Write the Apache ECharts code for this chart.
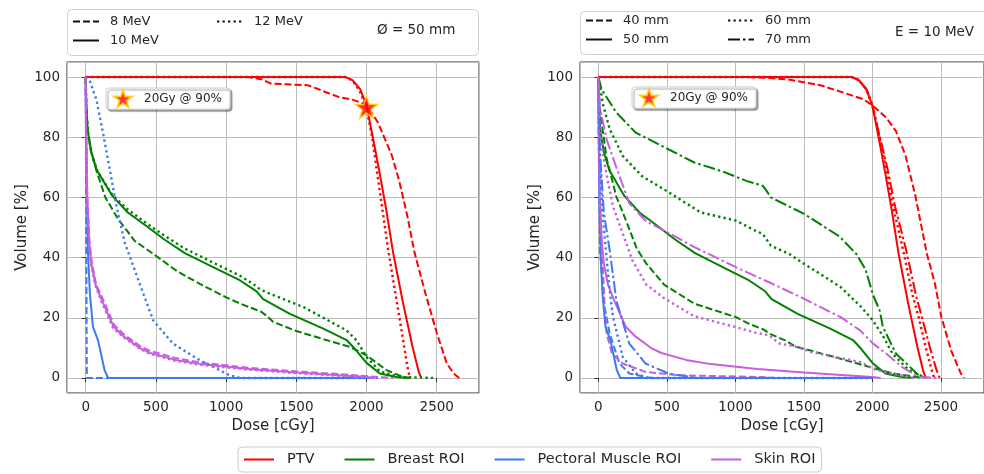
<!DOCTYPE html>
<html><head><meta charset="utf-8">
<script src="https://cdn.jsdelivr.net/npm/echarts@6/dist/echarts.min.js"></script>
<style>html,body{margin:0;padding:0;background:#fff}#c{width:984px;height:474px}</style>
</head><body><div id="c"></div>
<script>
// ---------- Data: [dose cGy, volume %] ----------
// Left panel: field size Ø = 50 mm, energies 8 / 10 / 12 MeV
const ptv_8MeV = [[0,100],[1150,100],[1250,99.3],[1320,97.8],[1580,97.3],[1650,96.1],[1730,94.6],[1800,93.4],[1900,92.5],[2000,90.8],[2080,85],[2180,74],[2230,66],[2290,54],[2340,42],[2420,28],[2500,15],[2570,5],[2620,1.5],[2660,0]];
const ptv_10MeV = [[0,100],[1850,100],[1900,99],[1955,96],[2000,90.5],[2045,80],[2090,69],[2140,56],[2190,41.5],[2262,24.5],[2328,10.3],[2372,2],[2390,0]];
const ptv_12MeV = [[0,100],[1850,100],[1900,98.8],[1950,95.5],[2000,89.8],[2040,80],[2070,70],[2110,57],[2155,42.3],[2214,25.8],[2261,12.5],[2290,4],[2309,0]];

const breast_8MeV = [[0,100],[5,90],[15,82],[40,75],[76,69],[140,60],[231,52.8],[350,45.5],[492,40.9],[650,35.5],[812,31.3],[1000,26.8],[1100,24.7],[1250,22],[1290,20.6],[1336,18.6],[1500,15.6],[1700,12.8],[1882,10.3],[2000,7.5],[2143,2.6],[2261,0.3],[2333,0]];
const breast_10MeV = [[0,100],[5,90],[15,82],[40,75],[80,69],[190,60.5],[300,55],[432,50.5],[560,46],[706,41.5],[900,37],[1100,32.4],[1217,28.8],[1264,26.2],[1454,21.3],[1692,16.4],[1858,12.6],[1917,9.7],[2000,5],[2095,1.5],[2214,0.3],[2300,0]];
const breast_12MeV = [[0,100],[5,90],[15,82],[40,75],[80,69],[190,60.8],[300,56],[430,51.5],[560,47.3],[706,43],[900,38.5],[1098,34],[1200,31],[1240,29.5],[1311,28],[1549,23.6],[1700,19.8],[1858,15.8],[1929,12.5],[2000,7],[2095,2.2],[2238,0.3],[2490,0]];

const pect_8MeV = [[0,100],[4,50],[8,0],[2080,0]];
const pect_10MeV = [[0,100],[3,80],[8,60],[16,42],[30,28],[52,17],[88,12.5],[135,2.5],[160,0],[1990,0]];
const pect_12MeV = [[0,100],[29,98.7],[76,92.6],[123,81.5],[171,69.4],[219,57.2],[278,45],[385,31.3],[481,19.1],[622,11.4],[812,5.9],[1026,0.9],[1098,0],[2000,0]];

const skin_8MeV = [[0,100],[5,80],[12,60],[28,45],[45,38],[75,31],[120,26.5],[200,17.8],[270,14.5],[390,10.5],[460,9],[640,6.6],[820,5.1],[1160,3.4],[1500,2.2],[1800,1.3],[2000,0.6],[2190,0]];
const skin_10MeV = [[0,100],[4,80],[10,60],[25,45],[40,38],[70,31],[115,25.8],[200,17],[270,13.8],[390,9.8],[460,8.3],[640,6],[820,4.6],[1160,3],[1500,1.8],[1800,0.9],[2000,0.3],[2060,0]];
const skin_12MeV = [[0,100],[4,80],[10,60],[24,45],[38,38],[68,31],[112,25.4],[195,16.6],[270,13.5],[390,9.6],[455,8.1],[630,5.8],[810,4.4],[1150,2.8],[1500,1.6],[1800,0.8],[2000,0.2],[2050,0]];

// Right panel: energy E = 10 MeV, field sizes 40 / 50 / 60 / 70 mm (50 mm = 10 MeV curves)
const ptv_40mm = [[0,100],[1080,100],[1250,99.7],[1388,99.2],[1626,97.2],[1791,94.8],[1934,92.6],[2005,90.4],[2100,86.5],[2171,82.1],[2242,73.8],[2313,60.6],[2396,41.5],[2456,31.3],[2503,20.2],[2574,9.2],[2645,1.5],[2669,0]];
const ptv_50mm = ptv_10MeV;
const ptv_60mm = [[0,100],[1850,100],[1900,99],[1955,96],[2000,90.5],[2050,80],[2100,69.5],[2150,57],[2225,42.3],[2290,28],[2337,20.2],[2390,10],[2430,3],[2450,0]];
const ptv_70mm = [[0,100],[1850,100],[1900,99],[1955,96],[2000,90.5],[2055,80],[2110,69.5],[2165,57],[2247,42.3],[2320,27],[2361,20.2],[2420,10],[2465,3],[2490,0]];

const breast_40mm = [[0,100],[10,90],[24,84.9],[60,73],[131,60.3],[226,49.5],[280,43],[350,38],[480,31],[700,24.7],[1004,20.2],[1100,18],[1200,16.2],[1260,14.5],[1363,12.5],[1434,10.5],[1719,7],[1981,3.6],[2147,1.5],[2366,0]];
const breast_50mm = breast_10MeV;
const breast_60mm = [[0,100],[36,90.4],[83,82.7],[178,73.8],[320,67],[503,62],[747,55],[1004,52.3],[1151,48.8],[1199,47.9],[1258,44],[1400,41],[1502,37.9],[1673,33],[1768,30.2],[1863,26],[1910,24],[2005,19],[2076,14],[2147,8],[2266,2.6],[2390,0]];
const breast_70mm = [[0,100],[24,95.9],[131,88.2],[273,81.5],[463,77.1],[700,71.6],[914,68.5],[1079,65.5],[1199,63.9],[1230,62],[1258,60],[1502,54.5],[1760,47],[1882,41.2],[1950,36],[2005,27.5],[2053,22.4],[2076,17],[2171,8.1],[2337,0.9],[2390,0]];

const pect_40mm = [[0,100],[4,70],[12,42.3],[40,25],[83,14.7],[154,4.8],[226,1.5],[344,0.3],[400,0],[2000,0]];
const pect_50mm = pect_10MeV;
const pect_60mm = [[0,100],[10,75],[30,55],[55,42.3],[80,30],[107,20.2],[178,7],[273,1.5],[356,0],[2000,0]];
const pect_70mm = [[0,100],[12,75],[40,55],[83,42.3],[131,25.8],[226,11.4],[344,4.8],[510,1.5],[724,0],[2000,0]];

const skin_40mm = [[0,100],[5,75],[15,55],[30,40],[45,25],[60,14.7],[100,8],[178,4.8],[344,2],[581,0.9],[1187,0.3],[1300,0]];
const skin_50mm = skin_10MeV;
const skin_60mm = [[0,100],[10,85],[30,75],[71,65],[107,57],[154,51],[249,39],[350,31],[480,26.5],[700,20.5],[1004,16.9],[1151,15],[1246,14.2],[1317,11.5],[1434,10.5],[1554,8.6],[1910,5.3],[2028,2.6],[2266,0.3],[2300,0]];
const skin_70mm = [[0,100],[10,90],[60,79.3],[131,70],[226,58],[350,52],[503,48.4],[700,43.5],[1004,36.8],[1246,31.8],[1502,26.3],[1768,20.2],[1910,15.8],[2005,11.4],[2100,8.1],[2218,3.6],[2337,0.3],[2480,0]];

// marker: 20 Gy @ 90 %
const markerPoint = [[2000, 90]];

// axis ranges / labels
const xRangeLeft = [-133, 2801];
const xRangeRight = [-134, 2814];
const yRange = [-5, 105];
const xName = 'Dose [cGy]';
const yName = 'Volume [%]';
const roiNames = ['PTV', 'Breast ROI', 'Pectoral Muscle ROI', 'Skin ROI'];
const energyNames = ['8 MeV', '10 MeV', '12 MeV'];
const sizeNames = ['40 mm', '50 mm', '60 mm', '70 mm'];
const markerName = '20Gy @ 90%';

// ---------- Styles ----------
const FONT = 'DejaVu Sans';
const TXT = '#262626';
const COL = {PTV: '#ff0000', Breast: '#008000', Pect: '#3d7af0', Skin: '#c95ee0'};
const DASH = {solid: 'solid', dashed: [7, 3], dotted: [2.3, 3.2], dashdot: [12, 3, 2.5, 3]};
const WIDTH = {solid: 2, dashed: 2, dotted: 2.4, dashdot: 2};
const STAR = 'path://M50,0 L61.8,35.1 L98.1,35.1 L68.8,56.8 L79.4,91.9 L50,70.5 L20.6,91.9 L31.2,56.8 L1.9,35.1 L38.2,35.1 Z';

function line(name, data, color, style, gi) {
  return {type: 'line', name: name, data: data, xAxisIndex: gi, yAxisIndex: gi,
    symbol: 'none', showSymbol: false, clip: true, silent: true,
    lineStyle: {color: color, width: WIDTH[style], type: DASH[style]}, itemStyle: {color: color}};
}
function dummy(name, color, style) {
  return {type: 'line', name: name, data: [], xAxisIndex: 0, yAxisIndex: 0, symbol: 'none',
    lineStyle: {color: color, width: WIDTH[style], type: DASH[style]}, itemStyle: {color: color}};
}

const series = [];
const leftSets = [
  ['8', 'dashed', ptv_8MeV, breast_8MeV, pect_8MeV, skin_8MeV],
  ['10', 'solid', ptv_10MeV, breast_10MeV, pect_10MeV, skin_10MeV],
  ['12', 'dotted', ptv_12MeV, breast_12MeV, pect_12MeV, skin_12MeV]
];
leftSets.forEach(s => {
  series.push(line('L PTV ' + s[0], s[2], COL.PTV, s[1], 0));
  series.push(line('L Breast ' + s[0], s[3], COL.Breast, s[1], 0));
  series.push(line('L Pect ' + s[0], s[4], COL.Pect, s[1], 0));
  series.push(line('L Skin ' + s[0], s[5], COL.Skin, s[1], 0));
});
const rightSets = [
  ['40', 'dashed', ptv_40mm, breast_40mm, pect_40mm, skin_40mm],
  ['50', 'solid', ptv_50mm, breast_50mm, pect_50mm, skin_50mm],
  ['60', 'dotted', ptv_60mm, breast_60mm, pect_60mm, skin_60mm],
  ['70', 'dashdot', ptv_70mm, breast_70mm, pect_70mm, skin_70mm]
];
rightSets.forEach(s => {
  series.push(line('R PTV ' + s[0], s[2], COL.PTV, s[1], 1));
  series.push(line('R Breast ' + s[0], s[3], COL.Breast, s[1], 1));
  series.push(line('R Pect ' + s[0], s[4], COL.Pect, s[1], 1));
  series.push(line('R Skin ' + s[0], s[5], COL.Skin, s[1], 1));
});
series.push({type: 'scatter', name: markerName, data: markerPoint, xAxisIndex: 0, yAxisIndex: 0,
  symbol: STAR, symbolSize: 22, z: 5,
  itemStyle: {color: '#ff0000', borderColor: '#ffd400', borderWidth: 1.6}});
series.push(dummy(energyNames[0], '#111', 'dashed'));
series.push(dummy(energyNames[1], '#111', 'solid'));
series.push(dummy(energyNames[2], '#111', 'dotted'));
series.push(dummy(sizeNames[0], '#111', 'dashed'));
series.push(dummy(sizeNames[1], '#111', 'solid'));
series.push(dummy(sizeNames[2], '#111', 'dotted'));
series.push(dummy(sizeNames[3], '#111', 'dashdot'));
series.push(dummy(roiNames[0], COL.PTV, 'solid'));
series.push(dummy(roiNames[1], COL.Breast, 'solid'));
series.push(dummy(roiNames[2], COL.Pect, 'solid'));
series.push(dummy(roiNames[3], COL.Skin, 'solid'));

const tickFmt = v => String(v);
function xAxis(gi, range) {
  return {type: 'value', gridIndex: gi, min: range[0], max: range[1], splitNumber: 5,
    name: xName, nameLocation: 'middle', nameGap: 26,
    nameTextStyle: {fontFamily: FONT, fontSize: 15, color: TXT},
    axisLine: {show: false},
    axisTick: {show: true, length: 4, lineStyle: {color: '#333', width: 1}},
    axisLabel: {fontFamily: FONT, fontSize: 13.5, color: TXT, margin: 7, showMinLabel: false, showMaxLabel: false, formatter: tickFmt},
    splitLine: {show: true, lineStyle: {color: '#bdbdbd', width: 1}}};
}
function yAxis(gi) {
  return {type: 'value', gridIndex: gi, min: yRange[0], max: yRange[1], splitNumber: 5,
    name: yName, nameLocation: 'middle', nameGap: 37,
    nameTextStyle: {fontFamily: FONT, fontSize: 15, color: TXT},
    axisLine: {show: false},
    axisTick: {show: true, length: 4, lineStyle: {color: '#333', width: 1}},
    axisLabel: {fontFamily: FONT, fontSize: 13.5, color: TXT, margin: 7, showMinLabel: false, showMaxLabel: false, formatter: tickFmt},
    splitLine: {show: true, lineStyle: {color: '#bdbdbd', width: 1}}};
}

const hideSymbol = {color: 'rgba(0,0,0,0)', borderWidth: 0, opacity: 0};
const legTxt = {fontFamily: FONT, fontSize: 13, color: TXT, padding: [0, 0, 0, 6]};
function smallLegend(names, left, top) {
  return {data: names, orient: 'vertical', left: left, top: top, padding: 0, itemGap: 6,
    itemWidth: 26, itemHeight: 14, textStyle: legTxt, selectedMode: false,
    itemStyle: hideSymbol, lineStyle: {width: 2}};
}
function markerLegend(left, top) {
  return {data: [markerName], left: left, top: top, padding: [1, 8, 1, 7], itemWidth: 18, itemHeight: 18,
    backgroundColor: '#fff', borderColor: '#cccccc', borderWidth: 1, borderRadius: 3,
    shadowColor: 'rgba(0,0,0,0.35)', shadowBlur: 1, shadowOffsetX: 2, shadowOffsetY: 2,
    textStyle: {fontFamily: FONT, fontSize: 12, color: TXT, padding: [0, 0, 0, 7]}, selectedMode: false};
}

const option = {
  animation: false,
  backgroundColor: '#fff',
  grid: [
    {left: 67, top: 62, width: 412, height: 331, show: true, borderColor: '#2a2a2a', borderWidth: 1, backgroundColor: 'transparent'},
    {left: 580, top: 62, width: 414, height: 331, show: true, borderColor: '#2a2a2a', borderWidth: 1, backgroundColor: 'transparent'}
  ],
  xAxis: [xAxis(0, xRangeLeft), xAxis(1, xRangeRight)],
  yAxis: [yAxis(0), yAxis(1)],
  legend: [
    smallLegend([energyNames[0], energyNames[1]], 72, 15),
    smallLegend([energyNames[2]], 216, 15),
    smallLegend([sizeNames[0], sizeNames[1]], 585, 14),
    smallLegend([sizeNames[2], sizeNames[3]], 727, 14),
    markerLegend(106, 88),
    markerLegend(632, 87),
    {data: roiNames, left: 238, top: 447, padding: [5, 6, 5, 5], itemWidth: 30, itemHeight: 14, itemGap: 29,
      backgroundColor: '#fff', borderColor: '#cccccc', borderWidth: 1, borderRadius: 4, selectedMode: false,
      itemStyle: hideSymbol, lineStyle: {width: 2},
      textStyle: {fontFamily: FONT, fontSize: 14.5, color: TXT, padding: [0, 0, 0, 8]}}
  ],
  graphic: [
    {type: 'rect', left: 67, top: 9, z: -1, shape: {width: 411, height: 46, r: 4},
      style: {fill: '#fff', stroke: '#d0d0d0', lineWidth: 1}},
    {type: 'rect', left: 580, top: 11, z: -1, shape: {width: 420, height: 43, r: 4},
      style: {fill: '#fff', stroke: '#d0d0d0', lineWidth: 1}},
    {type: 'text', left: 377, top: 23, style: {text: 'Ø = 50 mm', font: '13.5px "DejaVu Sans"', fill: TXT}},
    {type: 'text', left: 895, top: 25, style: {text: 'E = 10 MeV', font: '13.5px "DejaVu Sans"', fill: TXT}}
  ],
  series: series
};
const chart = echarts.init(document.getElementById('c'), null, {renderer: 'canvas'});
chart.setOption(option);
</script></body></html>
